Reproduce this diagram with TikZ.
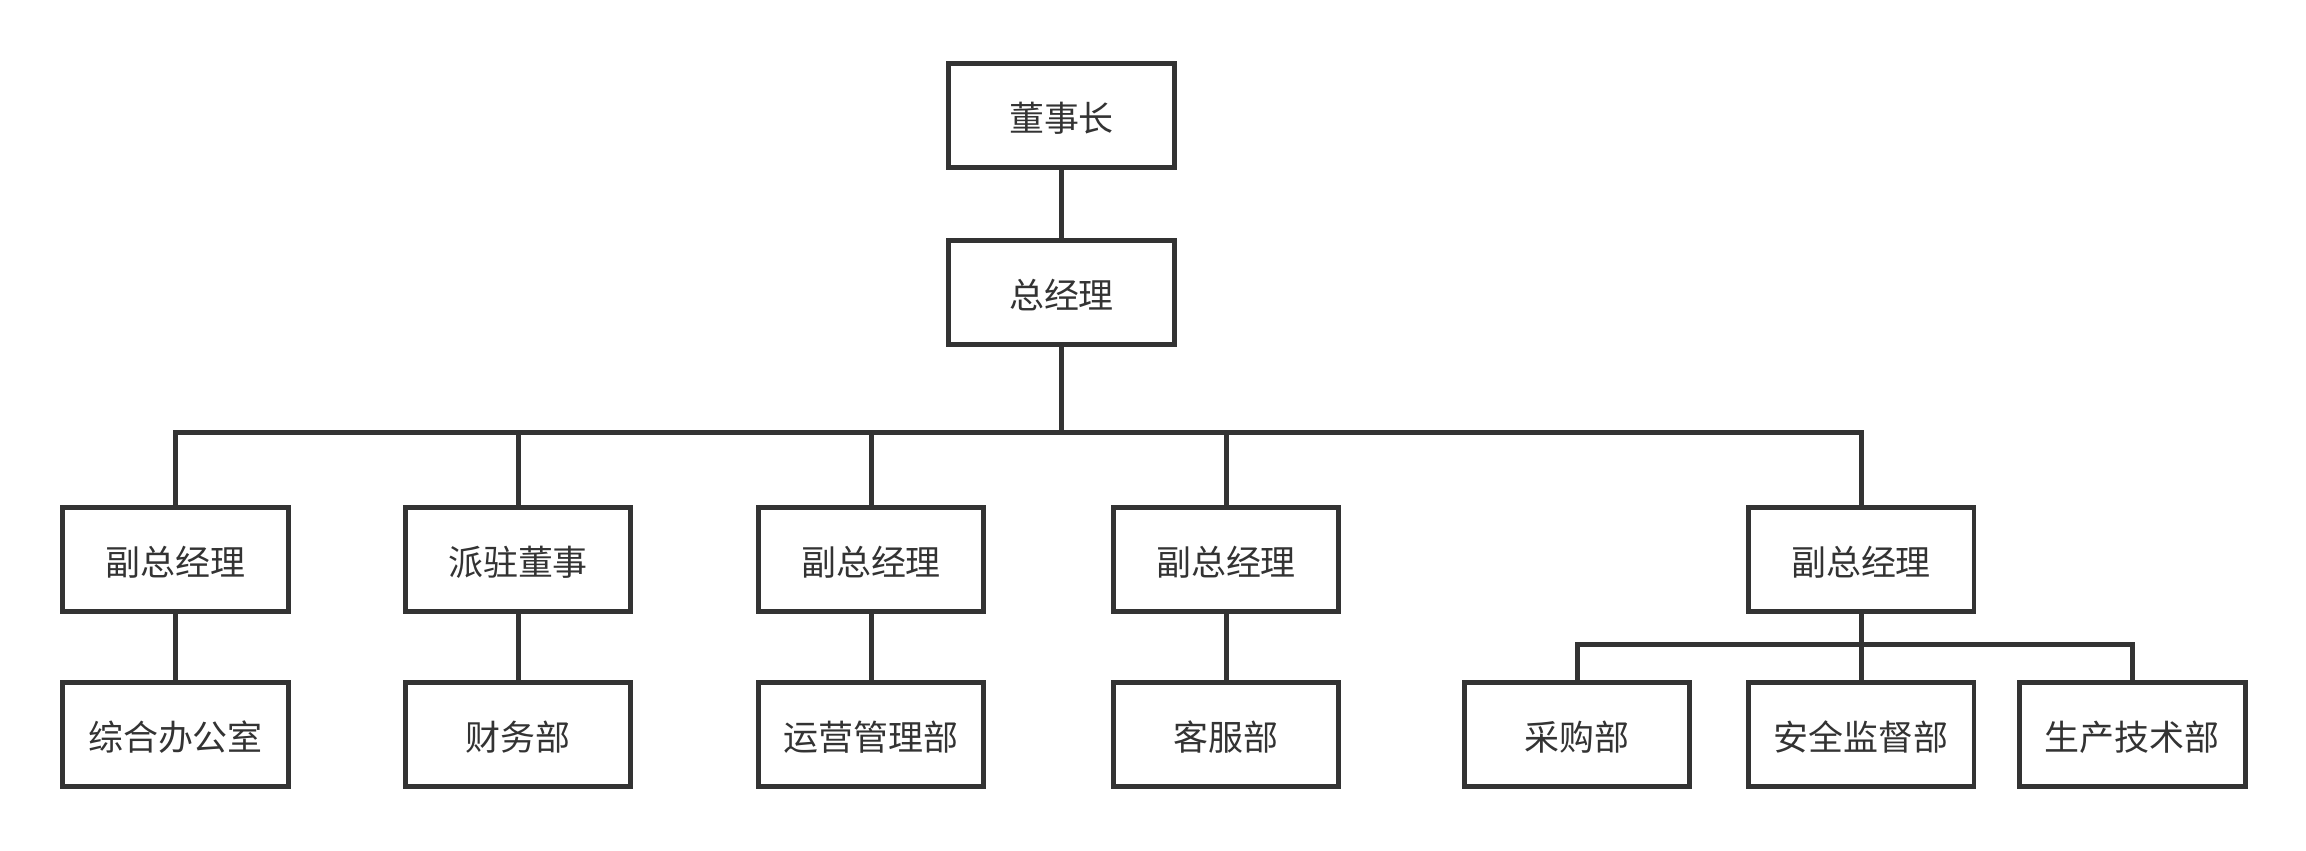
\documentclass[tikz,border=0pt]{standalone}
\usepackage{fontspec}
\setmainfont{Noto Sans CJK SC}
\definecolor{linec}{HTML}{333333}
\begin{document}
\begin{tikzpicture}[x=0.02cm,y=-0.02cm,
  box/.style={draw=linec, line width=0.1cm, minimum width=4.52cm, minimum height=2.08cm, inner sep=0pt, text height=0.7cm, text depth=0.03cm, text=linec, font=\fontsize{19.9pt}{24pt}\selectfont},
  conn/.style={draw=linec, line width=0.1cm}]
\useasboundingbox (0,0) rectangle (2306,850);
\node[box] (chair) at (1061.5,115) {董事长};
\node[box] (gm) at (1061.5,292) {总经理};
\node[box] (pm1) at (175.5,559) {副总经理};
\node[box] (ds) at (518,559) {派驻董事};
\node[box] (pm2) at (871,559) {副总经理};
\node[box] (pm3) at (1226,559) {副总经理};
\node[box] (pm4) at (1861,559) {副总经理};
\node[box] (d1) at (175.5,734) {综合办公室};
\node[box] (d2) at (518,734) {财务部};
\node[box] (d3) at (871,734) {运营管理部};
\node[box] (d4) at (1226,734) {客服部};
\node[box] (d5) at (1577,734) {采购部};
\node[box] (d6) at (1861,734) {安全监督部};
\node[box] (d7) at (2132,734) {生产技术部};
\coordinate (bus) at (1061.5,432);
\coordinate (bus2) at (1861,644);
\draw[conn] (chair) -- (gm);
\draw[conn] (gm.south) -- (bus);
\foreach \n in {pm1,ds,pm2,pm3,pm4} {\draw[conn] (bus) -| (\n.north);}
\draw[conn] (pm1) -- (d1);
\draw[conn] (ds) -- (d2);
\draw[conn] (pm2) -- (d3);
\draw[conn] (pm3) -- (d4);
\draw[conn] (pm4.south) -- (bus2);
\foreach \n in {d5,d6,d7} {\draw[conn] (bus2) -| (\n.north);}
\end{tikzpicture}
\end{document}
